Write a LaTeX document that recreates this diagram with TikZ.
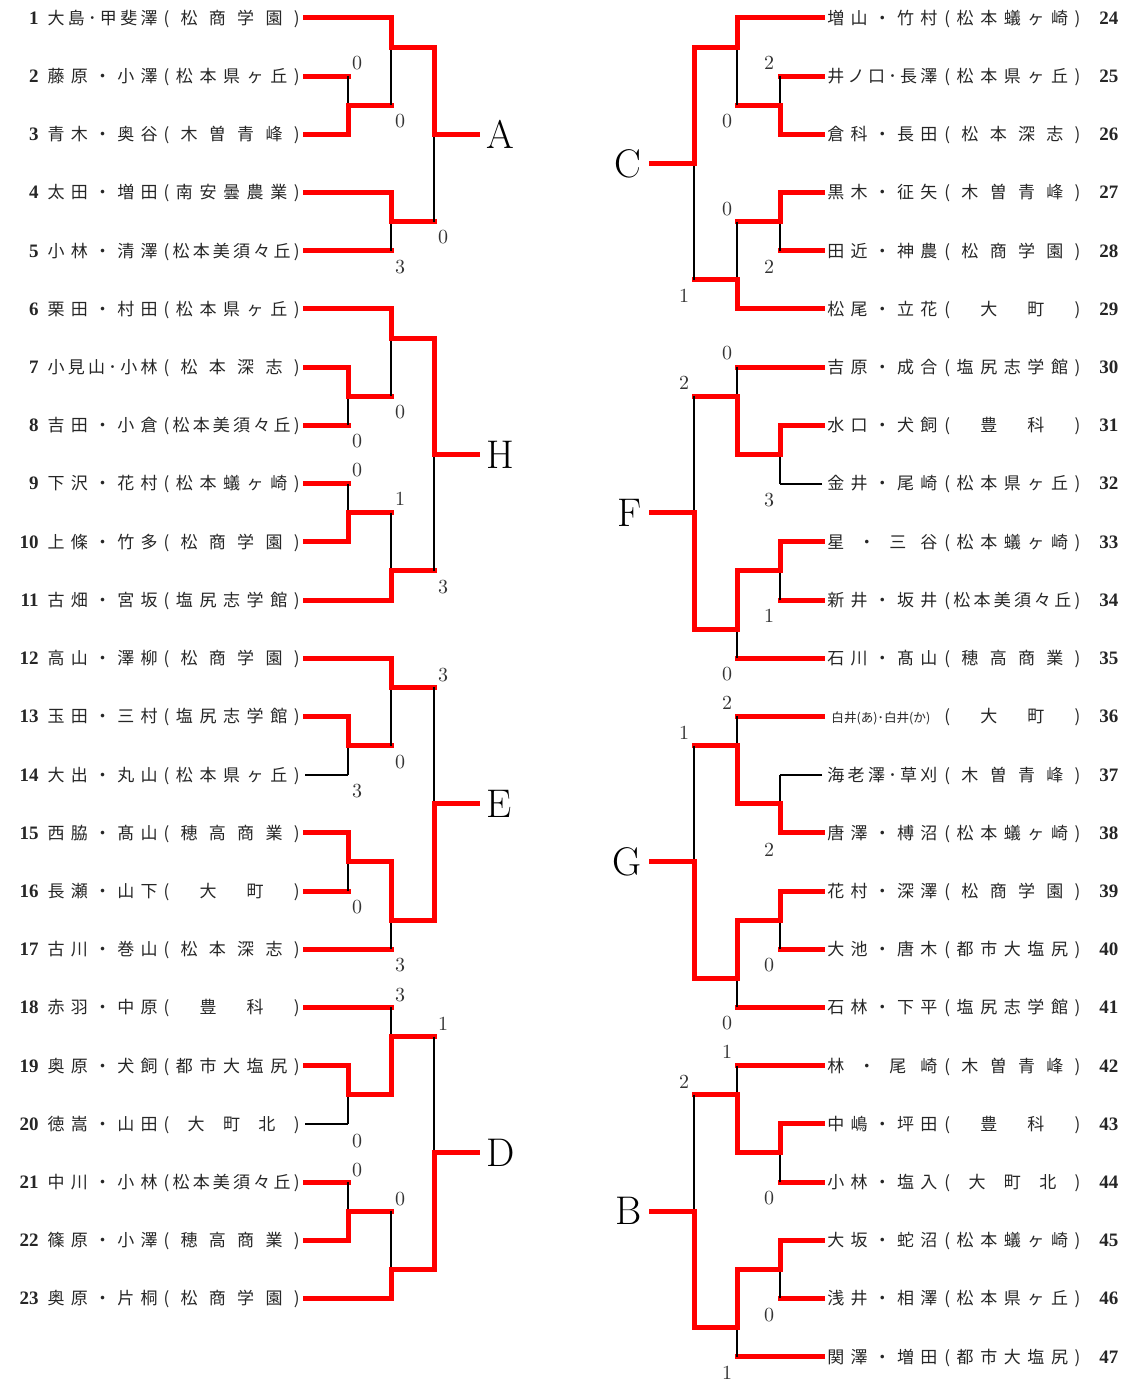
\documentclass[tikz,border=0pt]{standalone}
\usepackage{fontspec}
\newfontfamily\jp{Noto Sans CJK JP}
\newfontfamily\numfont{Liberation Serif}
\usetikzlibrary{positioning}

\def\spreadfirst#1{#1\spreadrest}
\def\spreadrest#1{\ifx\relax#1\else\hfil#1\expandafter\spreadrest\fi}
\newcommand\namebox[1]{\makebox[55pt][s]{\expandafter\spreadfirst#1\relax}}
\newcommand\schoolbox[1]{\edef\schooltmp{(#1)}\makebox[68pt][s]{\expandafter\spreadfirst\schooltmp\relax}}
\newcommand\shirai{\hspace{2pt}{\fontsize{6.3}{7}\selectfont 白井(あ)･白井(か)}\hfill}
\newcommand\entnum[1]{{\numfont\fontsize{9.5}{10}\selectfont\bfseries #1}}

\tikzset{
    entry/.style={inner xsep=2.5pt, inner ysep=0pt, text height=7.5pt, text depth=1.1pt,
        font={\jp\fontsize{8.5}{10}\selectfont}, text=black!85},
    redline/.style={red, line width=2.5pt, line cap=rect},
    blackline/.style={black, line width=1pt},
    score/.style={inner sep=0pt, text=black!80},
    block/.style={inner xsep=4.5pt, font={\fontsize{20}{24}\selectfont}}
}

\begin{document}
\begin{tikzpicture}[x=0.5pt, y=-0.5pt]
    \useasboundingbox (0,0) rectangle (1126,1384);

    \foreach \e/\nm/\sch in {1/大島･甲斐澤/松商学園, 2/藤原・小澤/松本県ヶ丘, 3/青木・奥谷/木曽青峰,
        4/太田・増田/南安曇農業, 5/小林・清澤/松本美須々丘, 6/栗田・村田/松本県ヶ丘,
        7/小見山･小林/松本深志, 8/吉田・小倉/松本美須々丘, 9/下沢・花村/松本蟻ヶ崎,
        10/上條・竹多/松商学園, 11/古畑・宮坂/塩尻志学館, 12/高山・澤柳/松商学園,
        13/玉田・三村/塩尻志学館, 14/大出・丸山/松本県ヶ丘, 15/西脇・髙山/穂高商業,
        16/長瀬・山下/大町, 17/古川・巻山/松本深志, 18/赤羽・中原/豊科,
        19/奥原・犬飼/都市大塩尻, 20/徳嵩・山田/大町北, 21/中川・小林/松本美須々丘,
        22/篠原・小澤/穂高商業, 23/奥原・片桐/松商学園}
        \node[entry, anchor=east] (\e) at (305, {18+(\e-1)*58.2})
            {\makebox[11pt][r]{\entnum{\e}}\hspace{4.5pt}\namebox{\nm}\hspace{3pt}\schoolbox{\sch}};
    \foreach \e/\nm/\sch in {24/増山・竹村/松本蟻ヶ崎, 25/井ノ口･長澤/松本県ヶ丘, 26/倉科・長田/松本深志,
        27/黒木・征矢/木曽青峰, 28/田近・神農/松商学園, 29/松尾・立花/大町,
        30/吉原・成合/塩尻志学館, 31/水口・犬飼/豊科, 32/金井・尾崎/松本県ヶ丘,
        33/星・三谷/松本蟻ヶ崎, 34/新井・坂井/松本美須々丘, 35/石川・髙山/穂高商業,
        36/\shirai/大町, 37/海老澤･草刈/木曽青峰, 38/唐澤・榑沼/松本蟻ヶ崎,
        39/花村・深澤/松商学園, 40/大池・唐木/都市大塩尻, 41/石林・下平/塩尻志学館,
        42/林・尾崎/木曽青峰, 43/中嶋・坪田/豊科, 44/小林・塩入/大町北,
        45/大坂・蛇沼/松本蟻ヶ崎, 46/浅井・相澤/松本県ヶ丘, 47/関澤・増田/都市大塩尻}
        \node[entry, anchor=west] (\e) at (822, {18+(\e-24)*58.2})
            {\namebox{\nm}\hspace{3.5pt}\schoolbox{\sch}\hspace{9.5pt}\makebox[11pt][l]{\entnum{\e}}};

    \foreach \m/\x/\r in {m1/348/3, m2/391/1, m3/391/7, m4/434/4, m5/348/13, m6/391/11,
        m7/348/17, m8/391/19, m9/434/15, m10/348/25, m11/391/23, m12/348/29, m13/391/31,
        m14/434/27, m15/348/37, m16/391/35, m17/348/41, m18/391/43, m19/434/39,
        n1/780/3, n2/737/1, n3/780/7, n4/737/9, n5/694/5, n6/780/15, n7/737/13,
        n8/780/19, n9/737/21, n10/694/17, n11/780/27, n12/737/25, n13/780/31,
        n14/737/33, n15/694/29, n16/780/39, n17/737/37, n18/780/43, n19/737/45, n20/694/41}
        \coordinate (\m) at (\x, {18+\r*29.1});

    \foreach \m/\b in {m4/A, m9/H, m14/E, m19/D}
        \node[block, right=21.5pt of \m] (\b) {\b};
    \foreach \m/\b in {n5/C, n10/F, n15/G, n20/B}
        \node[block, left=21.5pt of \m] (\b) {\b};

    \foreach \l/\m/\h in {2/m1/redline, m1/m2/redline, 5/m3/redline, m3/m4/redline,
        8/m5/redline, m5/m6/redline, 9/m7/redline, m7/m8/redline, m8/m9/redline,
        14/m10/blackline, m10/m11/redline, 16/m12/redline, 17/m13/redline, m11/m14/redline,
        20/m15/blackline, 18/m16/redline, 21/m17/redline, m17/m18/redline, m16/m19/redline,
        25/n1/redline, n1/n2/redline, 28/n3/redline, n3/n4/redline, n4/n5/redline,
        32/n6/blackline, 30/n7/redline, 34/n8/redline, 35/n9/redline, n7/n10/redline,
        37/n11/blackline, 36/n12/redline, 40/n13/redline, 41/n14/redline, n12/n15/redline,
        44/n16/redline, 42/n17/redline, 46/n18/redline, 47/n19/redline, n17/n20/redline}
    {
        \draw[\h] (\l) -- (\l -| \m);
        \draw[blackline] (\l -| \m) -- (\m);
    }

    \foreach \w/\m in {3/m1, 1/m2, 4/m3, m2/m4, 7/m5, 6/m6, 10/m7, 11/m8, m6/m9,
        13/m10, 12/m11, 15/m12, m12/m13, m13/m14, 19/m15, m15/m16, 22/m17, 23/m18, m18/m19,
        26/n1, 24/n2, 27/n3, 29/n4, n2/n5, 31/n6, n6/n7, 33/n8, n8/n9, n9/n10,
        38/n11, n11/n12, 39/n13, n13/n14, n14/n15, 43/n16, n16/n17, 45/n18, n18/n19, n19/n20}
        \draw[redline] (\w) -| (\m);

    \foreach \m/\b in {m4/A, m9/H, m14/E, m19/D, n5/C, n10/F, n15/G, n20/B}
        \draw[redline] (\m) -- (\b);

    \foreach \x/\y/\s [count=\k] in {357/63/0, 400/121/0, 400/267/3, 443/237/0,
        357/441/0, 400/412/0, 357/470/0, 400/499/1, 443/587/3,
        357/791/3, 400/762/0, 357/907/0, 400/965/3, 443/675/3,
        357/1141/0, 400/995/3, 357/1170/0, 400/1199/0, 443/1024/1,
        769/63/2, 727/121/0, 769/267/2, 727/209/0, 684/296/1,
        769/500/3, 727/353/0, 769/616/1, 727/674/0, 684/383/2,
        769/850/2, 727/703/2, 769/965/0, 727/1023/0, 684/733/1,
        769/1198/0, 727/1052/1, 769/1315/0, 727/1373/1, 684/1082/2}
        \node[score] (s\k) at (\x,\y) {\s};
\end{tikzpicture}
\end{document}
